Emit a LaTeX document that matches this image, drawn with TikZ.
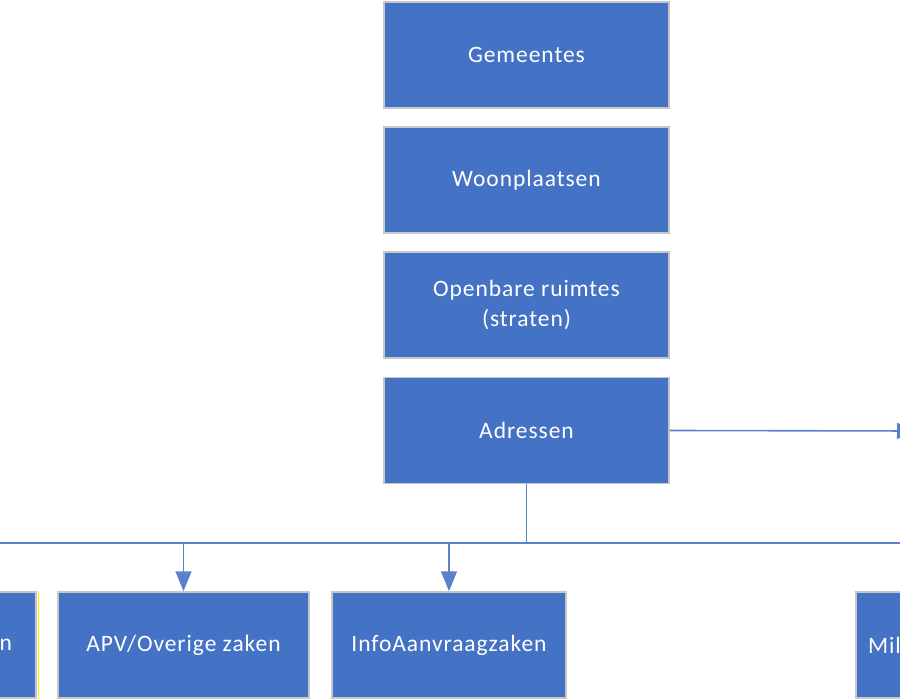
\documentclass[tikz,border=0pt]{standalone}
\usepackage{fontspec}
\setmainfont{Carlito}[LetterSpace=4]
\usetikzlibrary{arrows.meta}
\definecolor{boxblue}{HTML}{4472C4}
\definecolor{linkblue}{HTML}{5A82CC}
\tikzset{
  blok/.style={rectangle, fill=boxblue, draw=black!22, line width=1.5pt, text=white,
    minimum height=106pt, font=\fontsize{23.5}{30}\selectfont, align=center, inner sep=0pt},
  link/.style={draw=linkblue, line width=1.6pt},
  pijl/.style={link, -{Triangle[width=16pt,length=20pt]}}
}
\begin{document}
\begin{tikzpicture}[x=1pt,y=-1pt]
\useasboundingbox (0,0) rectangle (900,700);
\clip (0,0) rectangle (900,700);
\node(GEM)[blok, minimum width=285pt] at (526.5,55) {Gemeentes};
\node(WP)[blok, minimum width=285pt] at (526.5,180) {Woonplaatsen};
\node(OR)[blok, minimum width=285pt] at (526.5,305) {Openbare ruimtes\\(straten)};
\node(ADR)[blok, minimum width=285pt] at (526.5,430.5) {Adressen};
\node(LZ)[blok, minimum width=251pt, text width=203pt, align=right] at (-89.5,645) {n};
\node(APV)[blok, minimum width=251pt] at (183.5,645) {APV/Overige zaken};
\node(INFO)[blok, minimum width=234pt] at (449,645) {InfoAanvraagzaken};
\node(MIL)[blok, minimum width=251pt, text width=227pt, align=left] at (981.5,645) {Mil};
\draw[yellow, line width=1pt] ([xshift=1.5pt]LZ.north east) -- ([xshift=1.5pt]LZ.south east);
\coordinate (busL) at (-10,543);
\coordinate (busR) at (910,543);
\coordinate (adrR) at (917,431);
\draw[link] (busL) -- (busR);
\draw[link] (ADR.south) -- (ADR.south |- busL);
\draw[pijl] (ADR.east) -- (adrR);
\draw[pijl] (APV.north |- busL) -- (APV.north);
\draw[pijl] (INFO.north |- busL) -- (INFO.north);
\end{tikzpicture}
\end{document}
